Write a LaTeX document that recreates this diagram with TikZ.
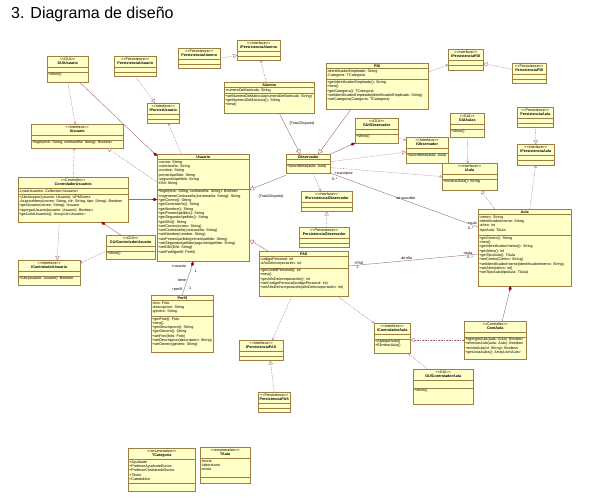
\documentclass[tikz,border=0pt]{standalone}
\usepackage{fontspec}
\setmainfont{Liberation Sans}
\usetikzlibrary{shapes.multipart,arrows.meta,positioning}
\definecolor{umlfill}{RGB}{255,255,200}
\definecolor{umlborder}{RGB}{158,126,66}
\definecolor{umlline}{RGB}{165,105,120}
\definecolor{umlred}{RGB}{150,0,20}
\newcommand\hd[2]{\begin{tabular}{@{}c@{}}<\kern0pt<#1>\kern0pt>\\\textbf{#2}\end{tabular}}
\newcommand\nil{\rule{0pt}{2pt}}
\newcommand\pad[1]{\rule[-#1]{0pt}{#1}}
\tikzset{
	cls/.style={draw=umlborder, fill=umlfill, rectangle split, rectangle split parts=3,
		rectangle split part align={center,left,left}, align=left, anchor=north west,
		inner sep=1pt, font=\fontsize{3.7}{4.3}\selectfont, line width=0.45pt},
	dep/.style={umlline, line width=0.35pt, dash pattern=on 0.8pt off 0.8pt, -{Straight Barb[length=2pt,width=2.6pt]}},
	real/.style={umlline, line width=0.35pt, dash pattern=on 0.8pt off 0.8pt, -{Triangle[open,length=4pt,width=4.4pt,fill=white]}},
	gen/.style={umlline, line width=0.4pt, -{Triangle[open,length=4.5pt,width=5pt,fill=white]}},
	comp/.style={umlline, line width=0.4pt, {Diamond[length=5pt,width=3pt,color=umlred,fill=umlred]}-},
	assoc/.style={umlline, line width=0.4pt},
	lab/.style={text=black, font=\fontsize{3.7}{4.3}\selectfont, inner sep=0.5pt},
}
\begin{document}
\begin{tikzpicture}[x=1pt,y=-1pt]
	\fill[white] (0,0) rectangle (593,499);
	\useasboundingbox (0,0) rectangle (593,499);
	\node[anchor=base west, font=\fontsize{16}{19}\selectfont, inner sep=0pt] (title) at (11,18) {3. Diagrama de diseño};

	\node[cls, minimum width=41pt] (GUIUsuario) at (47,56) {\hd{GUI}{GUIUsuario}\nodepart{two}\nil\nodepart{three}+show()\pad{5pt}};
	\node[cls, minimum width=42pt] (PersistenciaUsuario) at (114,56) {\hd{Persistence}{PersistenciaUsuario}\nodepart{two}\nil\nodepart{three}\nil};
	\node[cls, minimum width=32pt] (IPersistUsuario) at (147,103) {\hd{Interface}{IPersistUsuario}\nodepart{two}\nil\nodepart{three}\nil};
	\node[cls, minimum width=92pt] (IUsuario) at (31,124) {\hd{Interface}{IUsuario}\nodepart{two}\nil\nodepart{three}+login(nick: String, contraseña: String): Boolean\pad{3pt}};
	\node[cls, minimum width=42pt] (PersistenciaAlumno) at (178,48) {\hd{Persistence}{PersistenciaAlumno}\nodepart{two}\nil\nodepart{three}\nil};
	\node[cls, minimum width=43pt] (IPersistenciaAlumno) at (237,40) {\hd{Interface}{IPersistenciaAlumno}\nodepart{two}\nil\nodepart{three}\nil};
	\node[cls, minimum width=90pt] (Alumno) at (224,82) {\textbf{Alumno}
		\nodepart{two}-numeroDeMatricula: String
		\nodepart{three}+setNumeroDeMatricula(numeroDeMatricula: String)\\+getNumeroDeMatricula(): String\\+new()\pad{6pt}};
	\node[cls, minimum width=102pt] (PDI) at (326,63) {\textbf{PDI}
		\nodepart{two}-IdentificadorEmpleado: String\\-Categoria: TCategoria\pad{2pt}
		\nodepart{three}+getIdentificadorEmpleado(): String\\+new()\\+getCategoria(): TCategoria\\+setIdentificadorEmpleado(identificadorEmpleado: String)\\+setCategoria(Categoria: TCategoria)\pad{7pt}};
	\node[cls, minimum width=35pt] (IPersistenciaPDI) at (448,49) {\hd{Interface}{IPersistenciaPDI}\nodepart{two}\nil\nodepart{three}\nil\pad{1pt}};
	\node[cls, minimum width=34pt] (PersistenciaPDI) at (512,63) {\hd{Persistence}{PersistenciaPDI}\nodepart{two}\nil\nodepart{three}\nil};
	\node[cls, minimum width=43pt] (GUIObservador) at (355,118) {\hd{GUI}{GUIObservador}\nodepart{two}\nil\nodepart{three}+show()\pad{4pt}};
	\node[cls, minimum width=42pt] (IObservador) at (406,137) {\hd{Interface}{IObservador}\nodepart{two}\nil\nodepart{three}+suscribirse(aula: Aula)\pad{5pt}};
	\node[cls, minimum width=34pt] (GUIAulas) at (450,113) {\hd{GUI}{GUIAulas}\nodepart{two}\nil\nodepart{three}+show()\pad{3pt}};
	\node[cls, minimum width=36pt] (PersistenciaAula) at (517,107) {\hd{Persistence}{PersistenciaAula}\nodepart{two}\nil\nodepart{three}\nil};
	\node[cls, minimum width=37pt] (IPersistenciaAula) at (517,144) {\hd{Interface}{IPersistenciaAula}\nodepart{two}\nil\nodepart{three}\nil\pad{1pt}};
	\node[cls, minimum width=55pt] (IAula) at (442,163) {\hd{Interface}{IAula}\nodepart{two}\nil\nodepart{three}+mostrarAula(): String\pad{6pt}};
	\node[cls, minimum width=93pt] (Aula) at (478,209) {\textbf{Aula}
		\nodepart{two}-centro: String\\-identificadorInterno: String\\-aforo: int\\-tipoAula: TAula\pad{3pt}
		\nodepart{three}+getCentro(): String\\+new()\\+getIdentificadorInterno(): String\\+getAforo(): int\\+getTipoAula(): TAula\\+setCentro(Centro: String)\\+setIdentificadorInterno(identificadorInterno: String)\\+setAforo(aforo: int)\\+setTipoAula(tipoAula: TAula)\pad{11pt}};
	\node[cls, minimum width=44pt] (Observador) at (286,154) {\textbf{Observador}\nodepart{two}\nil\nodepart{three}+suscribirse(aula: Aula)\pad{4pt}};
	\node[cls, minimum width=51pt] (IPersistenciaObservador) at (301,191) {\hd{Interface}{IPersistenciaObservador}\nodepart{two}\nil\nodepart{three}\nil};
	\node[cls, minimum width=50pt] (PersistenciaObservador) at (299,227) {\hd{Persistence}{PersistenciaObservador}\nodepart{two}\nil\nodepart{three}\nil};
	\node[cls, minimum width=89pt] (PAS) at (259,251) {\textbf{PAS}
		\nodepart{two}-codigoPersonal: int\\-añoDeIncorporación: int\pad{2pt}
		\nodepart{three}+getCodMPersonal(): int\\+new()\\+getAñoDeIncorporación(): int\\+setCodigoPersonal(codigoPersonal: int)\\+setAñoDeIncorporación(añoDeIncorporación: int)\pad{6pt}};
	\node[cls, minimum width=92pt] (Usuario) at (157,154) {\textbf{Usuario}
		\nodepart{two}-correo: String\\-contraseña: String\\-nombre: String\\-primerApellido: String\\-segundoApellido: String\\-DNI: String\pad{3pt}
		\nodepart{three}+login(nick: String, contraseña: String): Boolean\\+regenerarContraseña(contraseña: String): String\\+getCorreo(): String\\+getContraseña(): String\\+getNombre(): String\\+getPrimerApellido(): String\\+getSegundoApellido(): String\\+getDNI(): String\\+setCorreo(correo: String)\\+setContraseña(contraseña: String)\\+setNombre(nombre: String)\\+setPrimerApellido(primerApellido: String)\\+setSegundoApellido(segundoApellido: String)\\+setDNI(DNI: String)\\+setPerfil(perfil: Perfil)\pad{7pt}};
	\node[cls, minimum width=62pt] (Perfil) at (151,295) {\textbf{Perfil}
		\nodepart{two}-foto: Foto\\-descripcion: String\\-genero: String\pad{2pt}
		\nodepart{three}+getFoto(): Foto\\+new()\\+getDescripcion(): String\\+getGenero(): String\\+setFoto(foto: Foto)\\+setDescripcion(descripcion: String)\\+setGenero(genero: String)\pad{5pt}};
	\node[cls, minimum width=44pt] (IPersistenciaPAS) at (239,340) {\hd{Interface}{IPersistenciaPAS}\nodepart{two}\nil\nodepart{three}\nil};
	\node[cls, minimum width=32pt] (PersistenciaPAS) at (258,392) {\hd{Persistence}{PersistenciaPAS}\nodepart{two}\nil\nodepart{three}\nil};
	\node[cls, minimum width=110pt] (ControladorUsuarios) at (18,177) {\hd{Controller}{ControladorUsuarios}
		\nodepart{two}-ListaUsuarios: Collection<Usuario>\pad{1pt}
		\nodepart{three}+AltaUsuario(usuario: Usuario): UPMUsers\\-AsignarMenu(correo: String, clir: String, tipo: String): Boolean\\+getUsuario(correo: String): Usuario\\+agregarUsuario(usuario: Usuario): Boolean\\+getListaUsuarios(): ArrayList<Usuario>\pad{5pt}};
	\node[cls, minimum width=49pt] (GUIControladorUsuario) at (106,235) {\hd{GUI}{GUIControladorUsuario}\nodepart{two}\nil\nodepart{three}+show()\pad{3pt}};
	\node[cls, minimum width=62pt] (IControladorUsuario) at (18,260) {\hd{Interface}{IControladorUsuario}\nodepart{two}\nil\nodepart{three}+Alta(usuario: Usuario): Boolean\pad{4pt}};
	\node[cls, minimum width=36pt] (IControladorAula) at (374,323) {\hd{Interface}{IControladorAula}\nodepart{two}\nil\nodepart{three}+AgregarAula()\\+EliminarAula()\pad{5pt}};
	\node[cls, minimum width=62pt] (ContAula) at (464,321) {\hd{Controller}{ContAula}\nodepart{two}\nil
		\nodepart{three}+agregarAula(aula: Aula): Boolean\\+eliminarAula(aula: Aula): Boolean\\+existeAula(id: String): Boolean\\+getListaAulas(): ArrayList<Aula>\pad{4pt}};
	\node[cls, minimum width=60pt] (GUIControladorAula) at (413,369) {\hd{GUI}{GUIControladorAula}\nodepart{two}\nil\pad{3pt}\nodepart{three}+show()\pad{11pt}};
	\node[cls, minimum width=67pt] (TCategoria) at (128,448) {\hd{enumeration}{TCategoria}
		\nodepart{two}+Ayudante\\+ProfesorAyudanteDoctor\\+ProfesorContratadoDoctor\\+Titular\\+Catedrático\pad{2pt}
		\nodepart{three}\nil\pad{3pt}};
	\node[cls, minimum width=50pt] (TAula) at (200,447) {\hd{enumeration}{TAula}
		\nodepart{two}-teoria\\-laboratorio\\-mixta\pad{5pt}
		\nodepart{three}\nil\pad{2pt}};

	\node[lab] (TD1) at (302,124) {\{Total,Disjunta\}};
	\node[lab] (TD2) at (271,197) {\{Total,Disjunta\}};

	\draw[dep] (GUIUsuario.south) -- ([xshift=-2pt]IUsuario.north);
	\draw[comp] ([yshift=-2pt]Usuario.north west) -- ([xshift=-9pt]GUIUsuario.south east);
	\draw[real] (PersistenciaUsuario.south) -- ([xshift=-8pt]IPersistUsuario.north);
	\draw[dep] ([xshift=-22pt]Usuario.north) -- ([xshift=5pt]IPersistUsuario.south);
	\draw[real] ([yshift=-28pt]Usuario.north west) -- ([xshift=30pt]IUsuario.south);
	\draw[dep] (ControladorUsuarios.north) -- ([xshift=-3pt]IUsuario.south);
	\draw[comp] (ControladorUsuarios.east -| Usuario.west) -- (ControladorUsuarios.east);
	\draw[comp] ([xshift=28pt]ControladorUsuarios.south) -- ([xshift=-10pt]GUIControladorUsuario.north);
	\draw[real] ([xshift=-14pt]ControladorUsuarios.south) -- ([xshift=8pt]IControladorUsuario.north);
	\draw[dep] ([yshift=-4pt]GUIControladorUsuario.west) -- ([yshift=-3pt]IControladorUsuario.north east);
	\draw[comp] ([xshift=-10pt]Usuario.south) -- (Perfil.north)
		node[lab, pos=0.15, left=5pt] {+usuario}
		node[lab, pos=0.3, right=4pt] {1}
		node[lab, pos=0.55, left=0.5pt] {tiene}
		node[lab, pos=0.85, left=1pt] {+perfil}
		node[lab, pos=0.8, right=4pt] {1};
	\draw[gen] ([xshift=10pt]Alumno.south) -- ([xshift=-8pt]Observador.north);
	\draw[gen] ([xshift=25pt]PDI.south west) -- ([xshift=10pt]Observador.north);
	\draw[gen] ([yshift=-2pt]Observador.south west) -- ([yshift=18pt]Usuario.east);
	\draw[gen] ([xshift=9pt]PAS.north west) -- ([yshift=-32pt]Usuario.east);
	\draw[comp] (GUIObservador.south west) -- (Observador.north east);
	\draw[dep] ([yshift=-8pt]GUIObservador.east) -- ([yshift=-3pt]IObservador.north west);
	\draw[real] ([yshift=2pt]Observador.east) -- ([yshift=-2pt]IObservador.west);
	\draw[dep] ([yshift=-4pt]Observador.east) -- (IAula.west);
	\draw[dep] ([xshift=5pt]Observador.south) -- ([xshift=-6pt]IPersistenciaObservador.north);
	\draw[real] ([xshift=2pt]PersistenciaObservador.north) -- (IPersistenciaObservador.south);
	\draw[assoc] (Observador.south east) -- ([yshift=-18pt]Aula.north west)
		node[lab, pos=0.09, above=2pt] {+suscriptor}
		node[lab, pos=0.03, below=2pt] {0..*}
		node[lab, pos=0.51, above] {se suscribe}
		node[lab, pos=0.96, above] {+aula}
		node[lab, pos=0.95, below=2pt] {0..*};
	\draw[assoc] ([yshift=-15pt]PAS.north east) -- ([yshift=-45pt]Aula.north west)
		node[lab, pos=0.08, above] {+PAS}
		node[lab, pos=0.07, below] {1}
		node[lab, pos=0.45, above] {de ella}
		node[lab, pos=0.92, above] {+aula}
		node[lab, pos=0.94, below] {0..*};
	\draw[real] ([xshift=-30pt]Aula.north) -- ([xshift=11pt]IAula.south);
	\draw[dep] ([xshift=5pt]Aula.north) -- (IPersistenciaAula.south);
	\draw[real] (PersistenciaAula.south) -- (IPersistenciaAula.north);
	\draw[dep] (GUIAulas.south) -- ([xshift=-2pt]IAula.north);
	\draw[dep] ([yshift=-9pt]PDI.north east) -- ([yshift=-5pt]IPersistenciaPDI.west);
	\draw[real] ([yshift=4pt]PersistenciaPDI.west) -- ([yshift=-4pt]IPersistenciaPDI.east);
	\draw[real] (PersistenciaAlumno.east) -- ([yshift=-5pt]IPersistenciaAlumno.west);
	\draw[dep] ([xshift=-3pt]Alumno.north) -- ([xshift=2pt]IPersistenciaAlumno.south);
	\draw[dep] ([xshift=-12pt]PAS.south) -- ([xshift=11pt]IPersistenciaPAS.north);
	\draw[real] (PersistenciaPAS.north) -- ([xshift=9pt]IPersistenciaPAS.south);
	\draw[dep] ([xshift=-11pt]PAS.south east) -- (IControladorAula.north west);
	\draw[real] (ContAula.west) -- (ContAula.west -| IControladorAula.east);
	\draw[comp] ([xshift=-14pt]Aula.south) -- ([xshift=7pt]ContAula.north);
	\draw[dep] ([xshift=-16pt]GUIControladorAula.north) -- ([xshift=-2pt]IControladorAula.south east);
\end{tikzpicture}
\end{document}
